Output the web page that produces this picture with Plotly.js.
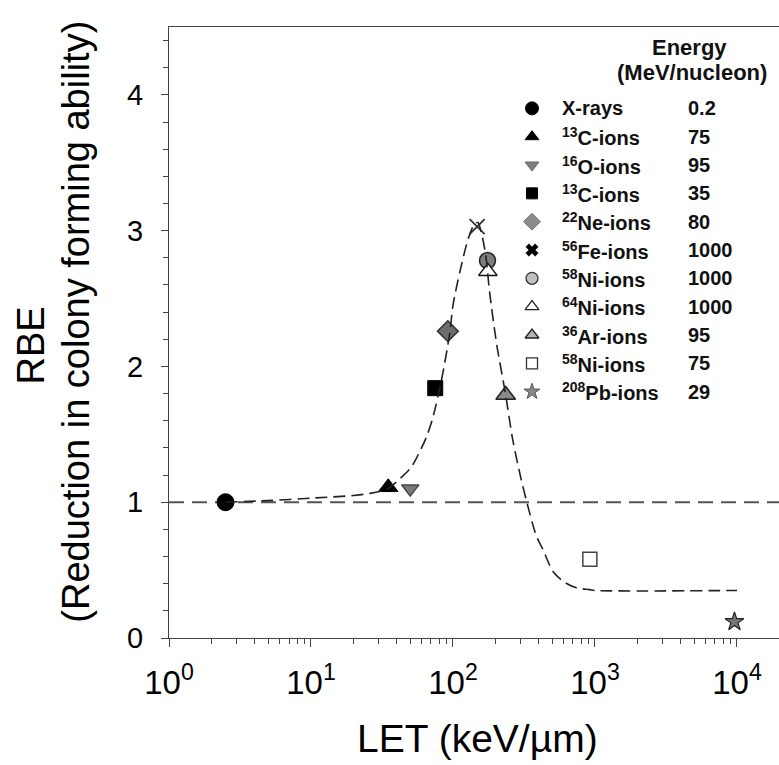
<!DOCTYPE html>
<html>
<head>
<meta charset="utf-8">
<script src="https://cdn.plot.ly/plotly-3.0.1.min.js"></script>
<style>
  html, body { margin: 0; padding: 0; background: #fff; }
  #chart { width: 779px; height: 765px; }
</style>
</head>
<body>
<div id="chart"></div>
<script>
// ---------------- data ----------------
const SERIES_NAMES = [
  'X-rays',
  '<sup>13</sup>C-ions',
  '<sup>16</sup>O-ions',
  '<sup>13</sup>C-ions',
  '<sup>22</sup>Ne-ions',
  '<sup>56</sup>Fe-ions',
  '<sup>58</sup>Ni-ions',
  '<sup>64</sup>Ni-ions',
  '<sup>36</sup>Ar-ions',
  '<sup>58</sup>Ni-ions',
  '<sup>208</sup>Pb-ions'
];
const ENERGIES = ['0.2', '75', '95', '35', '80', '1000', '1000', '1000', '95', '75', '29'];
const POINT_LET = [2.5, 35, 50, 75, 92, 148, 175, 176, 235, 920, 9600];
const POINT_RBE = [1.0, 1.11, 1.10, 1.84, 2.26, 3.03, 2.78, 2.70, 1.79, 0.58, 0.12];

// dashed fitted curve
const CURVE_LET = [2.5, 5, 10, 20, 26, 35, 40, 50, 55, 65, 72, 83, 95, 100, 112, 128, 142, 150,
                   158, 170, 181, 203, 235, 263, 300, 330, 387, 431, 506, 612, 740, 918, 1000, 10000];
const CURVE_RBE = [1.0, 1.012, 1.03, 1.05, 1.065, 1.1, 1.15, 1.25, 1.32, 1.48, 1.62, 1.9, 2.25, 2.45, 2.7, 2.94, 3.05, 3.06,
                   2.99, 2.82, 2.55, 2.165, 1.79, 1.464, 1.183, 1.006, 0.75, 0.65, 0.49, 0.41, 0.37, 0.356, 0.35, 0.35];

const REFERENCE_RBE = 1;

const X_TICK_VALS = [1, 10, 100, 1000, 10000];
const X_TICK_TEXT = ['10<sup>0</sup>', '10<sup>1</sup>', '10<sup>2</sup>', '10<sup>3</sup>', '10<sup>4</sup>'];
const Y_TICK_VALS = [0, 1, 2, 3, 4];

const LEGEND_HEADER = ['Energy', '(MeV/nucleon)'];
const X_TITLE = 'LET (keV/µm)';
const Y_TITLE = ['RBE', '(Reduction in colony forming ability)'];

// ---------------- styles ----------------
const PLOT_STYLE = [
  {symbol: 'circle',        size: 17, color: '#000000', line: '#000000', lw: 1},
  {symbol: 'triangle-up',   size: 17, color: '#000000', line: '#000000', lw: 1},
  {symbol: 'triangle-down', size: 15, color: '#7a7a7a', line: '#444444', lw: 1.5},
  {symbol: 'square',        size: 15, color: '#000000', line: '#000000', lw: 1},
  {symbol: 'diamond',       size: 16, color: '#6e6e6e', line: '#333333', lw: 1.5},
  {symbol: 'x-thin-open',   size: 15, color: '#333333', line: '#333333', lw: 1.8},
  {symbol: 'circle',        size: 16, color: '#7d7d7d', line: '#222222', lw: 1.5},
  {symbol: 'triangle-up',   size: 16, color: '#ffffff', line: '#111111', lw: 1.5},
  {symbol: 'triangle-up',   size: 17, color: '#8a8a8a', line: '#222222', lw: 1.5},
  {symbol: 'square',        size: 14, color: '#ffffff', line: '#444444', lw: 1.5},
  {symbol: 'star',          size: 14, color: '#777777', line: '#222222', lw: 1.2}
];
const LEGEND_STYLE = [
  {symbol: 'circle',        size: 13, color: '#000000', line: '#000000', lw: 1},
  {symbol: 'triangle-up',   size: 12, color: '#000000', line: '#000000', lw: 1},
  {symbol: 'triangle-down', size: 12, color: '#808080', line: '#666666', lw: 1},
  {symbol: 'square',        size: 11, color: '#000000', line: '#000000', lw: 1},
  {symbol: 'diamond',       size: 13, color: '#8a8a8a', line: '#777777', lw: 1},
  {symbol: 'x',             size: 11, color: '#000000', line: '#000000', lw: 0.5},
  {symbol: 'circle',        size: 12, color: '#c0c0c0', line: '#333333', lw: 1.3},
  {symbol: 'triangle-up',   size: 12, color: '#ffffff', line: '#222222', lw: 1.3},
  {symbol: 'triangle-up',   size: 12, color: '#b5b5b5', line: '#222222', lw: 1.3},
  {symbol: 'square',        size: 11, color: '#ffffff', line: '#333333', lw: 1.3},
  {symbol: 'star',          size: 12, color: '#888888', line: '#555555', lw: 1}
];

const FONT = 'Arial, "Liberation Sans", sans-serif';
const LEGEND_COL_SYMBOL = 532, LEGEND_COL_NAME = 560, LEGEND_COL_ENERGY = 686;

// ---------------- traces ----------------
const traces = [];
SERIES_NAMES.forEach((name, i) => {
  const s = PLOT_STYLE[i];
  traces.push({
    type: 'scatter', mode: 'markers', name: name, showlegend: false,
    x: [POINT_LET[i]], y: [POINT_RBE[i]], xaxis: 'x', yaxis: 'y',
    marker: {symbol: s.symbol, size: s.size, color: s.color, line: {color: s.line, width: s.lw}},
    hoverinfo: 'x+y+name'
  });
});
traces.push({
  type: 'scatter', mode: 'lines', showlegend: false, name: 'fit',
  x: CURVE_LET, y: CURVE_RBE, xaxis: 'x', yaxis: 'y',
  line: {color: '#222222', width: 1.6, dash: '12px,6px', shape: 'spline', smoothing: 0.8}
});
// legend symbols (own axes)
SERIES_NAMES.forEach((name, i) => {
  const s = LEGEND_STYLE[i];
  traces.push({
    type: 'scatter', mode: 'markers', showlegend: false, hoverinfo: 'skip',
    x: [LEGEND_COL_SYMBOL], y: [i], xaxis: 'x2', yaxis: 'y2',
    marker: {symbol: s.symbol, size: s.size, color: s.color, line: {color: s.line, width: s.lw}}
  });
});

const annotations = [];
SERIES_NAMES.forEach((name, i) => {
  annotations.push({xref: 'x2', yref: 'y2', x: LEGEND_COL_NAME, y: i, text: '<b>' + name + '</b>', showarrow: false,
    xanchor: 'left', yanchor: 'middle', font: {family: FONT, size: 20, color: '#111'}});
  annotations.push({xref: 'x2', yref: 'y2', x: LEGEND_COL_ENERGY, y: i, text: '<b>' + ENERGIES[i] + '</b>', showarrow: false,
    xanchor: 'left', yanchor: 'middle', font: {family: FONT, size: 20, color: '#111'}});
});
annotations.push({xref: 'paper', yref: 'paper', x: 0.854, y: 0.967, text: '<b>' + LEGEND_HEADER[0] + '</b>', showarrow: false,
  xanchor: 'center', yanchor: 'middle', font: {family: FONT, size: 22, color: '#111'}});
annotations.push({xref: 'paper', yref: 'paper', x: 0.857, y: 0.926, text: '<b>' + LEGEND_HEADER[1] + '</b>', showarrow: false,
  xanchor: 'center', yanchor: 'middle', font: {family: FONT, size: 22, color: '#111'}});
// axis titles
annotations.push({xref: 'paper', yref: 'paper', x: 0.505, y: -0.165, text: X_TITLE, showarrow: false,
  xanchor: 'center', yanchor: 'middle', font: {family: FONT, size: 39, color: '#000'}});
annotations.push({xref: 'paper', yref: 'paper', x: -0.227, y: 0.478, text: Y_TITLE[0], showarrow: false,
  textangle: -90, xanchor: 'center', yanchor: 'middle', font: {family: FONT, size: 38, color: '#000'}});
annotations.push({xref: 'paper', yref: 'paper', x: -0.1516, y: 0.517, text: Y_TITLE[1], showarrow: false,
  textangle: -90, xanchor: 'center', yanchor: 'middle', font: {family: FONT, size: 38, color: '#000'}});

const minorX = [];
for (let e = 0; e < 4; e++) for (let m = 2; m <= 9; m++) minorX.push(m * Math.pow(10, e));

const layout = {
  width: 779, height: 765,
  margin: {l: 169, r: 0, t: 27, b: 127, pad: 0},
  paper_bgcolor: '#ffffff', plot_bgcolor: '#ffffff',
  showlegend: false,
  font: {family: FONT, color: '#000'},
  xaxis: {
    type: 'log', range: [0, 4.296], domain: [0, 1],
    tickmode: 'array', tickvals: X_TICK_VALS, ticktext: X_TICK_TEXT,
    ticks: 'outside', ticklen: 8, tickwidth: 1, tickcolor: '#444',
    minor: {tickmode: 'array', tickvals: minorX, ticks: 'outside', ticklen: 5, tickwidth: 1, tickcolor: '#444', showgrid: false},
    showline: true, linecolor: '#444', linewidth: 1, mirror: true,
    showgrid: false, zeroline: false,
    tickfont: {family: FONT, size: 33, color: '#000'},
    ticklabelstandoff: 7
  },
  yaxis: {
    range: [0, 4.5], domain: [0, 1],
    tickmode: 'array', tickvals: Y_TICK_VALS,
    ticks: 'outside', ticklen: 7, tickwidth: 1, tickcolor: '#444',
    minor: {dtick: 0.2, ticks: 'outside', ticklen: 5, tickwidth: 1, tickcolor: '#444', showgrid: false},
    showline: true, linecolor: '#444', linewidth: 1, mirror: false,
    showgrid: false, zeroline: false,
    tickfont: {family: FONT, size: 29, color: '#000'},
    ticklabelstandoff: 12
  },
  xaxis2: {domain: [(520 - 169) / 610, 1], range: [520, 779], anchor: 'y2',
    visible: false, fixedrange: true},
  yaxis2: {domain: [0.380, 0.890], range: [10.5, -0.5], anchor: 'x2', visible: false, fixedrange: true},
  shapes: [{
    type: 'line', xref: 'paper', x0: 0, x1: 1, yref: 'y', y0: REFERENCE_RBE, y1: REFERENCE_RBE,
    line: {color: '#555555', width: 2, dash: '15px,8px'}, layer: 'below'
  }],
  annotations: annotations
};

Plotly.newPlot('chart', traces, layout, {displayModeBar: false, staticPlot: true});
</script>
</body>
</html>
